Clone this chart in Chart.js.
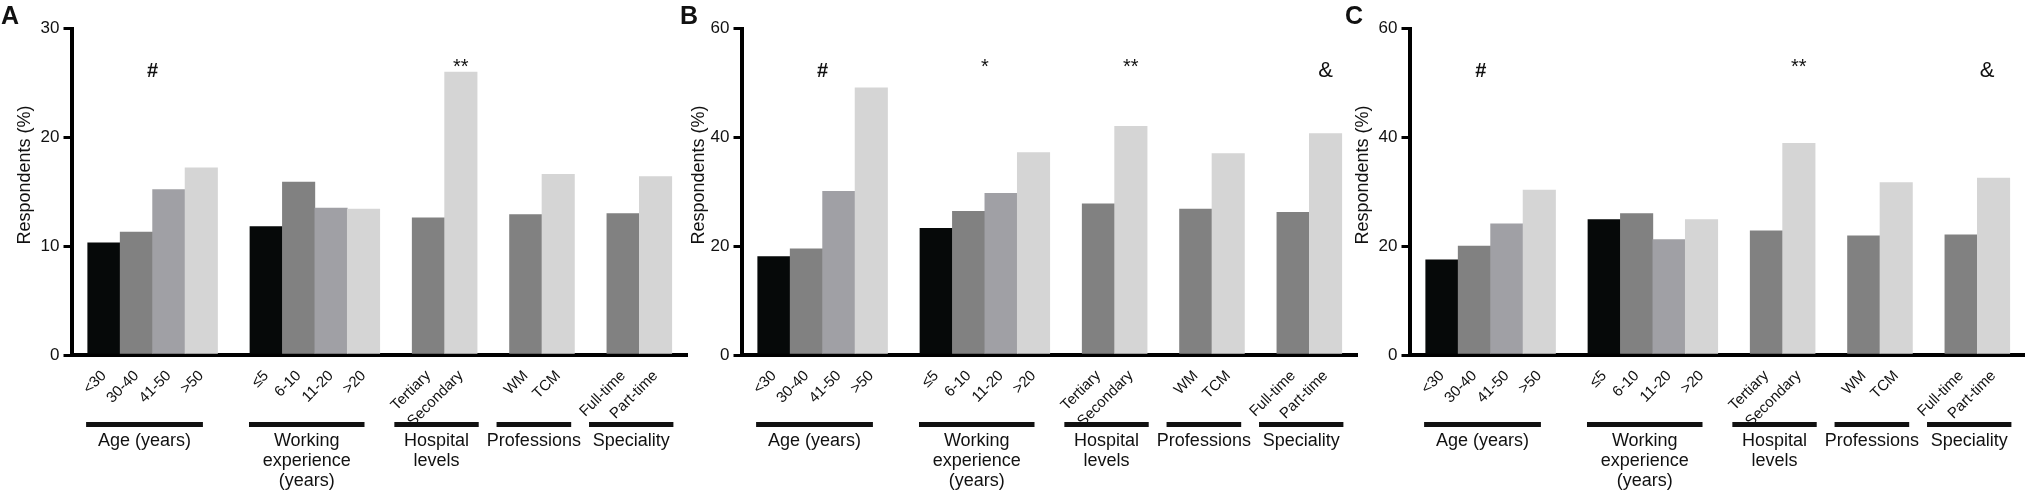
<!DOCTYPE html>
<html>
<head>
<meta charset="utf-8">
<script src="https://cdn.jsdelivr.net/npm/chart.js@4.4.1/dist/chart.umd.min.js"></script>
<style>
    html, body { margin: 0; padding: 0; background: #fff; }
    body { width: 2025px; height: 494px; position: relative; overflow: hidden; }
    canvas { position: absolute; top: 0; }
</style>
</head>
<body>
<canvas id="chartA" width="688" height="494" style="left:0px"></canvas>
<canvas id="chartB" width="688" height="494" style="left:670px"></canvas>
<canvas id="chartC" width="688" height="494" style="left:1338px"></canvas>
<script>
// slot of each bar on the x axis (empty slots 4, 9, 12, 15 separate the groups)
const barSlots = [0, 1, 2, 3, 5, 6, 7, 8, 10, 11, 13, 14, 16, 17]
const barLabels = ['<30', '30-40', '41-50', '>50', '≤5', '6-10', '11-20', '>20',
    'Tertiary', 'Secondary', 'WM', 'TCM', 'Full-time', 'Part-time']

const groupNames = [['Age (years)'], ['Working', 'experience', '(years)'], ['Hospital', 'levels'],
    ['Professions'], ['Speciality']]
const groupFirst = [0, 5, 10, 13, 16]
const groupLast = [3, 8, 11, 14, 17]

const valuesA = [10.3, 11.3, 15.2, 17.2, 11.8, 15.9, 13.5, 13.4, 12.6, 26.0, 12.9, 16.6, 13.0, 16.4]
const valuesB = [18.1, 19.5, 30.1, 49.1, 23.3, 26.4, 29.7, 37.2, 27.8, 42.0, 26.8, 37.0, 26.2, 40.7]
const valuesC = [17.5, 20.0, 24.1, 30.3, 24.9, 26.0, 21.2, 24.9, 22.8, 38.9, 21.9, 31.7, 22.1, 32.5]

const yTicksA = [0, 10, 20, 30]
const yTicksBC = [0, 20, 40, 60]
const yTitle = 'Respondents (%)'

// significance marks: [symbol, slot]
const marksA = [['#', 1.5], ['**', 11]]
const marksB = [['#', 1.5], ['*', 6.5], ['**', 11], ['&', 17]]
const marksC = [['#', 1.2], ['**', 11], ['&', 16.8]]

const BLACK = '#060909'
const DARK = '#818181'
const MID = '#a0a0a5'
const LIGHT = '#d5d5d5'
const barColors = [BLACK, DARK, MID, LIGHT, BLACK, DARK, MID, LIGHT, DARK, LIGHT, DARK, LIGHT, DARK, LIGHT]

// half length of the black group lines, in slots
const lineHalf = [1.8, 1.78, 1.3, 1.15, 1.3]

const FONT = '"Liberation Sans", Arial, Helvetica, sans-serif'
const INK = '#111'
Chart.defaults.font.family = FONT

const groupAxisPlugin = {
    id: 'groupAxis',
    afterDraw(chart, args, opts) {
        const { ctx } = chart
        const x = chart.scales.x
        const unit = x.getPixelForValue(1) - x.getPixelForValue(0)
        ctx.save()
        ctx.fillStyle = INK

        // group lines and names under the tick labels
        ctx.font = `18px ${FONT}`
        ctx.textAlign = 'center'
        ctx.textBaseline = 'middle'
        groupFirst.forEach((first, i) => {
            const mid = x.getPixelForValue((first + groupLast[i]) / 2 - 0.25)
            const half = lineHalf[i] * unit
            ctx.fillRect(mid - half, 422, half * 2, 5)
            groupNames[i].forEach((line, j) => ctx.fillText(line, mid, 441 + j * 20))
        })

        // y title, sitting a bit above the middle of the axis
        ctx.save()
        ctx.translate(opts.titleX, 175)
        ctx.rotate(-Math.PI / 2)
        ctx.fillText(yTitle, 0, 0)
        ctx.restore()

        // significance marks
        ctx.textBaseline = 'alphabetic'
        opts.marks.forEach(([sym, slot]) => {
            const px = x.getPixelForValue(slot)
            if (sym === '#') {
                ctx.font = `bold 20px ${FONT}`
                ctx.fillText(sym, px, 77)
            } else if (sym === '&') {
                ctx.font = `22px ${FONT}`
                ctx.fillText(sym, px, 77)
            } else {
                ctx.font = `20px ${FONT}`
                ctx.fillText(sym, px, 73)
            }
        })

        // panel letter
        ctx.font = `bold 25px ${FONT}`
        ctx.textAlign = 'left'
        ctx.fillText(opts.letter, opts.letterX, 24)
        ctx.restore()
    },
}

const makeChart = (id, letter, letterX, titleX, values, yTicks, marks) => {
    const yMax = yTicks[yTicks.length - 1]
    return new Chart(document.getElementById(id), {
        type: 'bar',
        data: {
            datasets: [
                {
                    data: values.map((v, i) => ({ x: barSlots[i], y: v })),
                    backgroundColor: barColors,
                    borderWidth: 0,
                    barPercentage: 1,
                    categoryPercentage: 1,
                },
            ],
        },
        options: {
            responsive: false,
            animation: false,
            layout: { padding: { top: 28.5, left: 0, right: 0, bottom: 0 } },
            plugins: {
                legend: { display: false },
                tooltip: { enabled: false },
                groupAxis: { letter, letterX, titleX, marks },
            },
            scales: {
                x: {
                    type: 'linear',
                    min: -1,
                    max: 18,
                    offset: false,
                    grid: { display: false, offset: false },
                    border: { display: true, color: '#000', width: 4 },
                    afterBuildTicks: s => {
                        s.ticks = barSlots.map(v => ({ value: v }))
                    },
                    afterFit: s => {
                        s.height = 139
                    },
                    ticks: {
                        autoSkip: false,
                        minRotation: 45,
                        maxRotation: 45,
                        padding: 4,
                        color: INK,
                        font: { size: 15 },
                        callback: v => barLabels[barSlots.indexOf(v)],
                    },
                },
                y: {
                    min: 0,
                    max: yMax,
                    afterBuildTicks: s => {
                        s.ticks = yTicks.map(v => ({ value: v }))
                    },
                    afterFit: s => {
                        s.width = 71.5
                    },
                    grid: {
                        drawOnChartArea: false,
                        drawTicks: true,
                        tickLength: 8,
                        color: '#000',
                        lineWidth: 3,
                    },
                    border: { display: true, color: '#000', width: 4 },
                    ticks: { padding: 4, color: INK, font: { size: 17 } },
                },
            },
        },
        plugins: [groupAxisPlugin],
    })
}

makeChart('chartA', 'A', 1, 25, valuesA, yTicksA, marksA)
makeChart('chartB', 'B', 10, 29, valuesB, yTicksBC, marksB)
makeChart('chartC', 'C', 7, 25, valuesC, yTicksBC, marksC)
</script>
</body>
</html>
